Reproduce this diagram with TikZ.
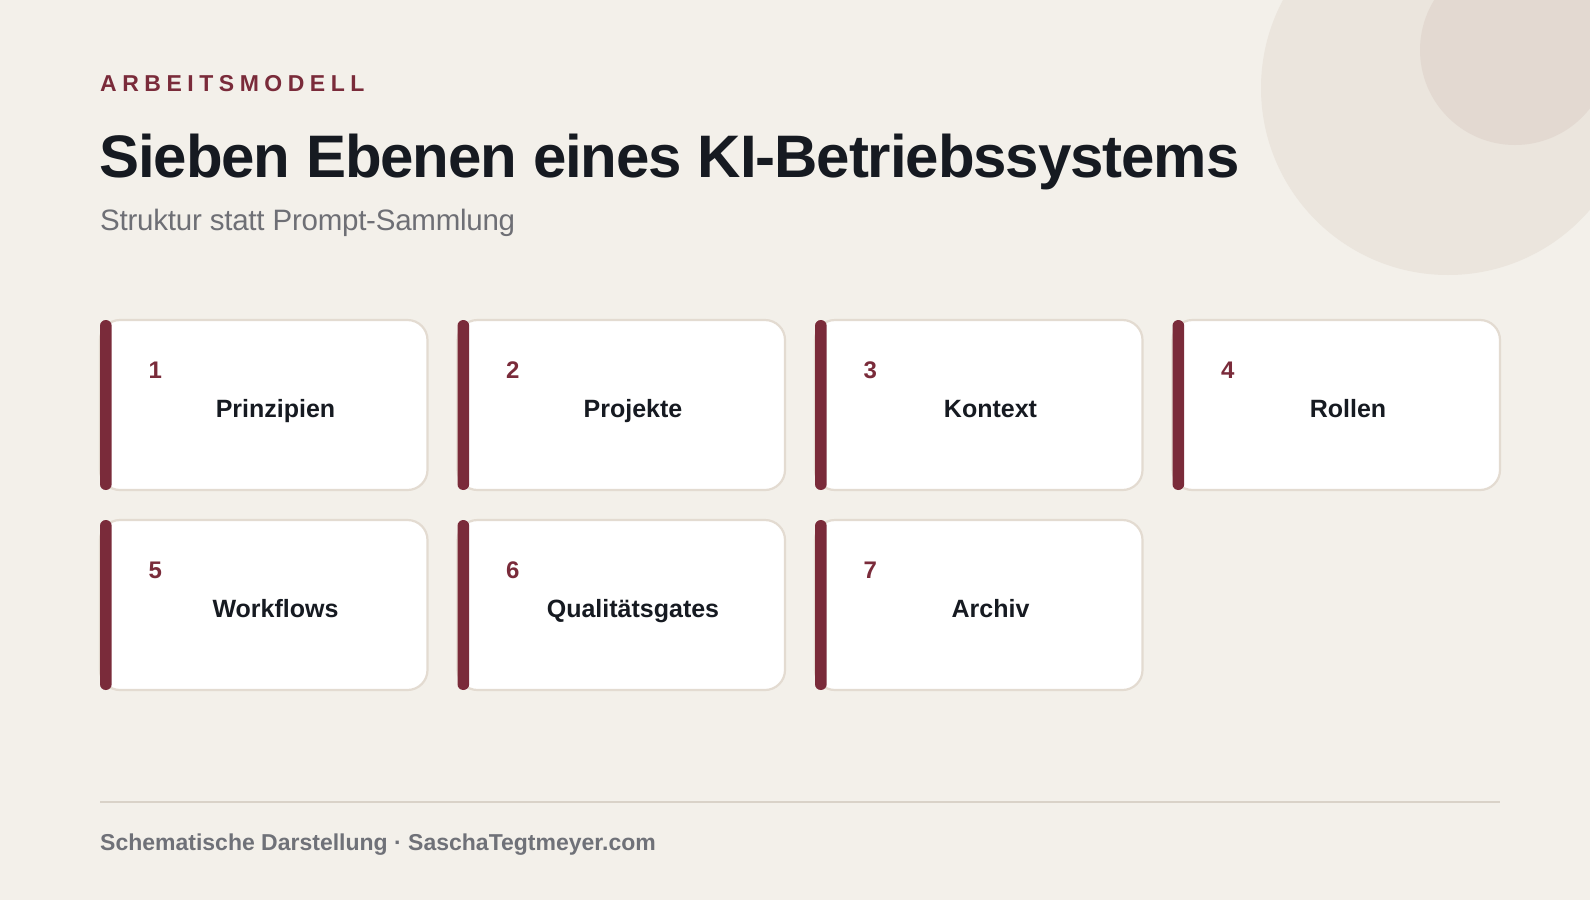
\documentclass[tikz,border=0pt]{standalone}
\usepackage{fontspec}
\setmainfont{Liberation Sans}
\definecolor{bgc}{HTML}{F3F0EA}
\definecolor{circA}{HTML}{EBE5DD}
\definecolor{circB}{HTML}{E3D9D1}
\definecolor{accent}{HTML}{7A2B3A}
\definecolor{titlec}{HTML}{161A21}
\definecolor{subc}{HTML}{6E6F75}
\definecolor{cardborder}{HTML}{E3DBD1}
\definecolor{footline}{HTML}{D9D2C8}
\definecolor{footc}{HTML}{6F7178}
\tikzset{
  cardbox/.style={rectangle, minimum width=327.5pt, minimum height=170pt, rounded corners=20pt,
    fill=white, draw=cardborder, line width=2.2pt, inner sep=0pt, outer sep=0pt},
  barbox/.style={rectangle, minimum width=11.7pt, minimum height=170pt, rounded corners=5.8pt,
    fill=accent, draw=none, inner sep=0pt, outer sep=0pt},
  numtext/.style={inner sep=0pt, text=accent, font=\fontsize{24}{28}\selectfont\bfseries},
  labtext/.style={inner sep=0pt, text=titlec, font=\fontsize{25}{30}\selectfont\bfseries},
  kicker/.style={inner sep=0pt, text=accent, font=\fontsize{23}{28}\selectfont\bfseries\addfontfeatures{LetterSpace=24}},
  titletext/.style={inner sep=0pt, text=titlec, font=\fontsize{60}{70}\selectfont\bfseries\addfontfeatures{LetterSpace=-1.8}},
  subtext/.style={inner sep=0pt, text=subc, font=\fontsize{29.5}{36}\selectfont\addfontfeatures{LetterSpace=-0.8}},
  foottext/.style={inner sep=0pt, text=footc, font=\fontsize{23}{28}\selectfont\bfseries},
  footrule/.style={draw=footline, line width=2pt}
}
\begin{document}
\begin{tikzpicture}[x=1pt,y=-1pt]
\useasboundingbox (0,0) rectangle (1590,900);
\clip (0,0) rectangle (1590,900);
\fill[bgc] (0,0) rectangle (1590,900);
\fill[circA] (1448,88) circle[radius=187pt];
\fill[circB] (1515,50) circle[radius=95pt];

\node[kicker, anchor=base west] (kick) at (100,91.7) {ARBEITSMODELL};
\node[titletext, anchor=base west] (title) at (99,177) {Sieben Ebenen eines KI-Betriebssystems};
\node[subtext, anchor=base west] (sub) at (100,230) {Struktur statt Prompt-Sammlung};

\foreach \i/\cx/\cy/\t in {1/100/320/Prinzipien, 2/457.5/320/Projekte, 3/815/320/Kontext, 4/1172.5/320/Rollen,
  5/100/520/Workflows, 6/457.5/520/Qualitätsgates, 7/815/520/Archiv} {
  \node[cardbox, anchor=north west] (card\i) at (\cx,\cy) {};
  \node[barbox, anchor=north west] (bar\i) at (\cx,\cy) {};
  \node[numtext, anchor=base west] (num\i) at ({\cx+48.5},{\cy+58.3}) {\i};
  \node[labtext, anchor=base] (lab\i) at ({\cx+175.5},{\cy+97}) {\t};
}

\coordinate (fl) at (100,802);
\coordinate (fr) at (1500,802);
\draw[footrule] (fl) -- (fr);
\node[foottext, anchor=base west] (foot) at (100,850) {Schematische Darstellung · SaschaTegtmeyer.com};
\end{tikzpicture}
\end{document}
